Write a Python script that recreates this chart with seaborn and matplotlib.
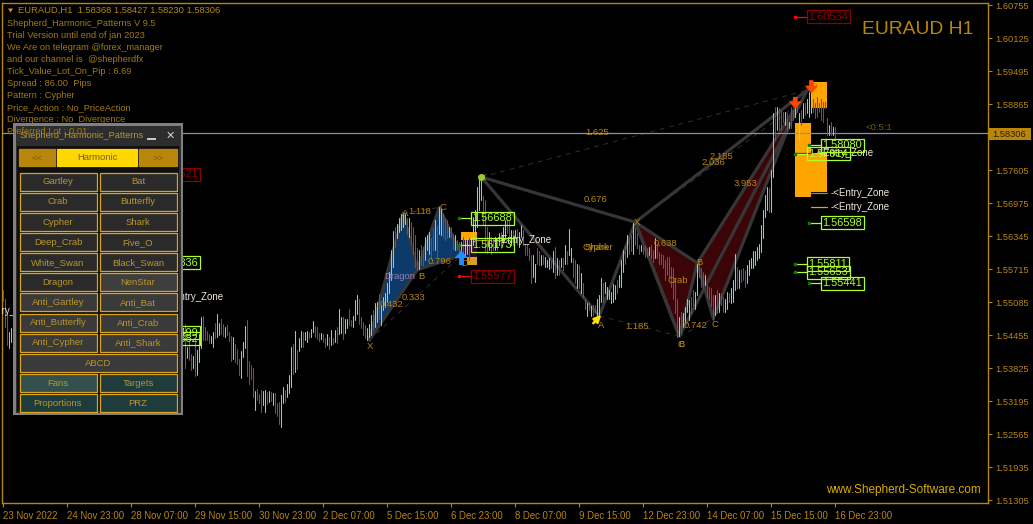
import numpy as np
import pandas as pd
import seaborn as sns
import matplotlib
matplotlib.use("Agg")
import matplotlib.pyplot as plt
from matplotlib.patches import Rectangle

# ---------- data: price = 1.5 + pips / 10000 ----------
left_bars = [0, 1, 2, 3, 4]
left_high = [531, 515, 487, 452, 458]
left_low = [511, 461, 426, 420, 433]
left_dir = "mmmcc"

first_bar = 91
bar_high = [
    466,423,436,410,406,436,416,448,479,481, 460,453,447,443,451,469,486,469,476,467,
    461,464,451,444,442,429,418,399,415,432, 462,474,396,388,383,338,342,333,340,339,
    340,337,338,337,335,334,315,317,331,347, 340,352,369,423,428,453,416,440,453,451,
    451,453,451,457,472,462,461,450,450,448, 440,447,442,456,439,455,460,496,480,479,
    476,477,495,474,481,512,521,515,480,471, 464,458,467,483,493,506,509,523,502,518,
    525,544,566,607,645,652,658,668,676,677, 677,668,669,661,652,636,611,607,617,614,
    633,636,642,630,649,665,655,689,687,677, 668,665,652,652,639,636,626,623,623,633,
    630,636,630,639,671,684,728,744,741,710, 703,652,643,633,630,633,630,640,643,652,
    665,665,665,646,646,646,647,643,655,646, 620,619,611,598,598,582,611,605,598,598,
    594,589,592,589,605,614,592,589,592,592, 617,605,647,611,592,589,582,579,563,544,
    515,506,509,500,503,503,515,522,554,544, 547,538,531,528,542,541,551,560,589,608,
    617,636,630,636,659,649,640,617,617,614, 615,611,614,617,608,630,620,604,601,598,
    589,594,595,576,573,554,515,480,490,487, 499,515,512,519,531,528,582,589,573,566,
    560,541,538,535,522,522,531,525,525,519, 515,528,525,535,550,600,576,570,571,573,
    570,579,589,592,605,605,614,620,655,684, 713,729,726,761,869,881,881,878,875,872,
    872,869,853,881,875,888,888,869,875,888, 888,897,910,913,897,888,900,888,897,891,
    891,859,846,853,843,843]
bar_low = [
    383,401,397,378,383,367,369,394,421,436, 436,436,431,431,423,440,442,445,448,443,
    442,445,434,396,399,394,391,369,364,404, 421,367,352,362,327,302,321,315,299,312,
    299,313,318,320,312,296,291,275,270,315, 318,327,334,347,372,375,381,415,423,422,
    436,432,439,442,451,441,437,434,437,432, 423,426,418,426,428,432,430,448,450,437,
    450,459,464,462,461,475,485,467,458,445, 439,436,442,445,455,461,471,477,464,493,
    499,509,525,550,576,614,630,642,646,652, 658,639,633,620,601,576,569,572,579,579,
    588,607,601,591,607,607,595,639,636,633, 626,630,633,630,610,607,607,604,588,582,
    595,601,588,617,617,636,652,684,703,655, 605,603,608,601,608,608,608,617,611,624,
    633,640,633,617,617,630,620,614,633,617, 598,598,589,544,557,547,582,579,579,582,
    576,576,571,573,566,554,560,560,576,570, 582,582,598,585,557,544,535,535,525,519,
    496,481,493,481,484,487,481,484,509,509, 525,515,515,506,509,515,525,538,538,566,
    582,595,601,605,601,617,611,601,605,601, 595,595,598,592,585,592,592,582,582,573,
    550,560,554,538,515,487,441,443,449,461, 468,490,474,487,500,496,522,557,538,535,
    541,519,515,500,475,484,487,490,503,490, 490,496,509,506,509,531,535,535,547,550,
    538,544,560,573,573,579,589,592,604,630, 671,684,681,681,748,818,837,837,837,853,
    846,837,840,840,856,862,872,818,846,859, 866,869,862,869,872,859,862,872,856,853,
    878,827,827,827,827,821]
bar_dir = (
    "mcmmcmcccm" "mmmccmccmm" "cmmmcmmmcc" "cmmmmcmmmc" "cmcmcmmmcc" "mcccmcmccm"
    "ccmccmmmcm" "mcmcmcmccm" "ccmmcccmmm" "mcccmccmcc" "cccccmcccc" "cmcmmmmcmm"
    "cccmmcmccm" "mmcmmcmmcm" "ccmccccccm" "mmcmmcmcmc" "cmmcmcmccm" "mmmmccmmcm"
    "cccmcmcmcm" "cmccmmcmcm" "mcmcmmcccm" "ccccccmccc" "mcmmcmmmcm" "mmcmmcmmmm"
    "mmmmmmmcmc" "cccmmccmmm" "cmmmmcmcmm" "ccmcccmcmm" "mccccccccc" "ccmccmcmmm"
    "cmcmmcmcmc" "mcccmmmmmm" "mmcmcm")

y_ticks = [1.60755, 1.60125, 1.59495, 1.58865, 1.58235, 1.57605, 1.56975, 1.56345,
           1.55715, 1.55085, 1.54455, 1.53825, 1.53195, 1.52565, 1.51935, 1.51305]
hidden_y_tick = 1.58235
x_tick_bars = list(range(0, 417, 32))
x_tick_labels = ["23 Nov 2022", "24 Nov 23:00", "28 Nov 07:00", "29 Nov 15:00", "30 Nov 23:00",
                 "2 Dec 07:00", "5 Dec 15:00", "6 Dec 23:00", "8 Dec 07:00", "9 Dec 15:00",
                 "12 Dec 23:00", "14 Dec 07:00", "15 Dec 15:00", "16 Dec 23:00"]
last_price = 1.58306

# harmonic pivots: X, A, B, C, D
dragon_bar = [183, 200, 207, 218, 229]
dragon_price = [1.5436, 1.5678, 1.5570, 1.5689, 1.5598]
cypher_bar = [239, 298, 316, 338, 402]
cypher_price = [1.5747, 1.5482, 1.5661, 1.5443, 1.5913]
crab_bar = [316, 338, 347, 355, 397]
crab_price = [1.5661, 1.5443, 1.5583, 1.5477, 1.5885]

# zones
zone_bar0 = [396, 404, 404, 229, 229, 232]
zone_bar1 = [404, 412, 412, 237, 237, 237]
zone_top = [1.5850, 1.5793, 1.5928, 1.5642, 1.5627, 1.5594]
zone_bot = [1.5709, 1.5718, 1.5879, 1.5627, 1.5594, 1.5579]
zone_col = ["#ffa500", "#ffa500", "#ffa500", "#ffa500", "#2a0a30", "#d9a020"]

# price tags
tag_value = ["1.58080", "1.57914", "1.56598", "1.55811", "1.55653", "1.55441",
             "1.56688", "1.56173", "1.55577", "1.60534", "1.57521", "1.55836", "1.54499", "1.54382"]
tag_bar = [403, 396, 403, 396, 396, 403, 228, 228, 228, 396, 71, 71, 71, 71]
tag_red = [0, 0, 0, 0, 0, 0, 0, 0, 1, 1, 1, 0, 0, 0]

# entry zones
entry_bar = [404, 404, 396, 237, 71, -14]
entry_price = [1.5717, 1.5690, 1.5793, 1.5627, 1.5518, 1.5492]
entry_len = [8, 8, 8, 6, 8, 0]
entry_col = ["#b8860b", "#daa520", "#3a3a3a", "#b8860b", "#b8860b", "#b8860b"]

# pattern texts
note_text = ["X", "A", "1.118", "C", "B", "D", "0.796", "0.432", "0.333",
             "X", "0.676", "1.625", "Shark", "Cypher", "A", "1.185", "X", "0.638", "Crab",
             "B", "C", "0.742", "B", "C", "2.185", "2.036", "3.953", "D"]
note_bar = [183.5, 201, 208, 220, 209, 230.5, 218, 194, 205,
            240, 296, 297, 297, 297, 299, 317, 317, 331, 337,
            339, 339, 346, 348, 356, 359, 355, 371, 405]
note_price = [1.5423, 1.5678, 1.5682, 1.5688, 1.5557, 1.5582, 1.5585, 1.5504, 1.5518,
              1.5747, 1.5705, 1.5833, 1.5613, 1.5613, 1.5463, 1.5461, 1.5661, 1.5621, 1.5550,
              1.5428, 1.5428, 1.5463, 1.5583, 1.5465, 1.5787, 1.5774, 1.5734, 1.5919]

header_lines = ["Shepherd_Harmonic_Patterns V 9.5", "Trial Version until end of jan 2023",
                "We Are on telegram @forex_manager", "and our channel is  @shepherdfx",
                "Tick_Value_Lot_On_Pip : 6.69", "Spread : 86.00  Pips", "Pattern : Cypher",
                "Price_Action : No_PriceAction", "Divergence : No_Divergence", "Preferred Lot : 0.01"]

button_rows = [("Gartley", "Bat"), ("Crab", "Butterfly"), ("Cypher", "Shark"), ("Deep_Crab", "Five_O"),
               ("White_Swan", "Black_Swan"), ("Dragon", "NenStar"), ("Anti_Gartley", "Anti_Bat"),
               ("Anti_Butterfly", "Anti_Crab"), ("Anti_Cypher", "Anti_Shark"), ("ABCD",),
               ("Fans", "Targets"), ("Proportions", "PRZ")]
button_fill = [("#2a2a2a", "#2a2a2a")] * 5 + [("#2a2a2a", "#3e3e3e")] + [("#3a3a3a", "#3a3a3a")] * 3 + \
              [("#3a3a3a",)] + [("#33504e", "#1e3c3c"), ("#1e3c3c", "#1e3c3c")]

# ---------- style ----------
GOLD = "#b8860b"
sns.set_theme(style="dark", rc={"axes.grid": False})
plt.rcParams["font.family"] = ["Liberation Sans", "DejaVu Sans"]
W, H = 1033, 524
fig = plt.figure(figsize=(W / 100, H / 100), dpi=100, facecolor="black")
ax = fig.add_axes([2 / W, 1 - 503 / H, 985.5 / W, 500.5 / H], facecolor="black")

# ---------- bars ----------
bars = np.r_[left_bars, first_bar + np.arange(len(bar_high))]
highs = np.r_[left_high, bar_high] / 1e4 + 1.5
lows = np.r_[left_low, bar_low] / 1e4 + 1.5
dirs = list(left_dir) + list(bar_dir)
df = pd.DataFrame({"bar": bars, "high": highs, "low": lows, "dir": dirs})
long = df.melt(id_vars=["bar", "dir"], value_vars=["high", "low"], value_name="price")
sns.lineplot(data=long, x="bar", y="price", hue="dir", units="bar", estimator=None, sort=False,
             palette={"c": "#35f0f8", "m": "#c0208a"}, linewidth=0.75, legend=False, ax=ax, zorder=4)

ax.set_xlim(-0.65, 492.1)
ax.set_ylim(1.51248, 1.60803)
ax.set_xlabel("")
ax.set_ylabel("")

# ---------- zones ----------
for b0, b1, t, bt, c in zip(zone_bar0, zone_bar1, zone_top, zone_bot, zone_col):
    ax.fill_between([b0, b1], bt, t, color=c, lw=0, zorder=1)

# ---------- patterns ----------
LINE = "#363636"


def pattern(bx, py, fill):
    if fill:
        ax.fill([bx[0], bx[1], bx[2]], [py[0], py[1], py[2]], color=fill, lw=0, zorder=1.5)
        ax.fill([bx[2], bx[3], bx[4]], [py[2], py[3], py[4]], color=fill, lw=0, zorder=1.5)
    for a, b in [(0, 1), (1, 2), (0, 2), (2, 3), (3, 4), (2, 4)]:
        ax.plot([bx[a], bx[b]], [py[a], py[b]], color=LINE, lw=2.3, zorder=2, solid_capstyle="round")
    for a, b in [(0, 4), (1, 3)]:
        ax.plot([bx[a], bx[b]], [py[a], py[b]], color="#303030", lw=0.7, ls=(0, (5, 5)), zorder=2)


pattern(cypher_bar, cypher_price, None)
pattern(crab_bar, crab_price, "#3b0508")
pattern(dragon_bar, dragon_price, "#0b3a6b")

# ---------- notes ----------
for t, b, p in zip(note_text, note_bar, note_price):
    ax.text(b, p, t, color=GOLD, fontsize=6.8, ha="center", va="center", zorder=6)
ax.text(198, 1.5557, "Dragon", color="#9a7fb0", fontsize=6.8, ha="center", va="center", zorder=6)

# ---------- arrows ----------
arrow_bar = [229, 396, 404]
arrow_from = [1.5579, 1.5900, 1.5932]
arrow_to = [1.5607, 1.5877, 1.5907]
arrow_col = ["#1e90ff", "#ff4500", "#ff4500"]
for b, p0, p1, c in zip(arrow_bar, arrow_from, arrow_to, arrow_col):
    ax.annotate("", xy=(b, p1), xytext=(b, p0), zorder=7,
                arrowprops=dict(facecolor=c, edgecolor="none", width=3.2, headwidth=9.5, headlength=5.5, shrink=0))
ax.annotate("", xy=(299, 1.5484), xytext=(295, 1.5468), zorder=7,
            arrowprops=dict(arrowstyle="-|>", color="#ffe000", lw=1.8, mutation_scale=10, shrinkA=0, shrinkB=0))
ax.plot([239], [1.5748], marker="o", ms=4, color="#9acd32", zorder=7)

# ---------- entry zones ----------
for b, p, n, c in zip(entry_bar, entry_price, entry_len, entry_col):
    if n:
        ax.plot([b, b + n], [p, p], color=c, lw=0.9, zorder=5)
    ax.text(b + n + 1.5, p, "-<Entry_Zone", color="#f0e8d8", fontsize=7, va="center", ha="left",
            zorder=6, clip_on=True)

# ---------- price tags ----------
for v, b, red in zip(tag_value, tag_bar, tag_red):
    p = float(v)
    edge = "#8b0000" if red else "#adff2f"
    ax.plot([b, b + 6], [p, p], color="#e01010" if red else "#adff2f", lw=0.9, zorder=6)
    ax.plot([b], [p], marker="s", ms=1.6, color="#ff0000" if red else "#0a7a0a", zorder=6)
    ax.text(b + 6.6, p, v, color=edge, fontsize=7.9, ha="left", va="center", zorder=6,
            bbox=dict(boxstyle="square,pad=0.14", fc="none", ec=edge, lw=0.9))

# ---------- last price ----------
ax.axhline(last_price, color="#8494a8", lw=0.9, zorder=3)

# ---------- axes ----------
for s in ax.spines.values():
    s.set_color(GOLD)
    s.set_linewidth(1.0)
    s.set_visible(True)
ax.yaxis.tick_right()
ax.set_yticks(y_ticks)
ax.set_yticklabels(["" if t == hidden_y_tick else f"{t:.5f}" for t in y_ticks])
ax.set_xticks(x_tick_bars)
ax.set_xticklabels(x_tick_labels, ha="left")
ax.tick_params(axis="y", colors=GOLD, labelsize=6.7, length=3, width=0.8, pad=2.5, right=True, left=False)
ax.tick_params(axis="x", colors=GOLD, labelsize=6.9, length=3, width=0.8, pad=3, bottom=True)
for t in ax.get_xticklabels() + ax.get_yticklabels():
    t.set_color(GOLD)

# ---------- overlay (terminal panel and captions), in screen pixels ----------
ov = fig.add_axes([0, 0, 1, 1], facecolor="none")
ov.set_xlim(0, W)
ov.set_ylim(H, 0)
ov.axis("off")


def rect(x0, y0, x1, y1, fc, ec="none", lw=0, z=1):
    ov.add_patch(Rectangle((x0, y0), x1 - x0, y1 - y0, fc=fc, ec=ec, lw=lw, zorder=z))


TXT = "#b8962a"


def button(x0, y0, x1, y1, label, fc="#2a2a2a", ec="#daa520", tc=TXT):
    rect(x0, y0, x1, y1, fc, ec, 0.9, 3)
    ov.text((x0 + x1) / 2, (y0 + y1) / 2 + 0.3, label, color=tc, fontsize=6.8, ha="center", va="center", zorder=4)


rect(13, 123, 183, 415, "#808080")
rect(15.5, 125.5, 180.5, 412.5, "#2d2d2d", z=1.1)
rect(17, 146, 179, 411, "#101010", z=1.2)
ov.text(20, 136, "Shepherd_Harmonic_Patterns", color=TXT, fontsize=6.6, va="center", zorder=5)
rect(147, 137.5, 156, 139.5, "#c8c8c8", z=5)
ov.text(170, 135.5, "\u2715", color="#d0d0d0", fontsize=8, ha="center", va="center", zorder=5,
        family=["DejaVu Sans"])
button(19, 149, 55, 166, "<<", fc=GOLD, ec=GOLD, tc="#806010")
button(57, 149, 137, 166, "Harmonic", fc="#ffd700", ec="#ffd700", tc="#7a6000")
button(139, 149, 177, 166, ">>", fc=GOLD, ec=GOLD, tc="#806010")
row_top = 172.5
for labels, fills in zip(button_rows, button_fill):
    if len(labels) == 2:
        button(19.5, row_top, 96.5, row_top + 18, labels[0], fills[0])
        button(99.5, row_top, 176.5, row_top + 18, labels[1], fills[1])
    else:
        button(19.5, row_top, 176.5, row_top + 18, labels[0], fills[0])
    row_top += 20.15

# last price flag
rect(988, 128, 1031, 140, GOLD, z=2)
ov.text(1009.5, 134.3, f"{last_price:.5f}", color="#2a1c00", fontsize=6.7, ha="center", va="center", zorder=3)

# header
ov.fill([8, 13, 10.5], [8.5, 8.5, 12.5], color="#e8900c", lw=0, zorder=6)
ov.text(18, 10.3, "EURAUD,H1  1.58368 1.58427 1.58230 1.58306", color=GOLD, fontsize=6.75, va="center", zorder=6)
for i, line in enumerate(header_lines):
    ov.text(7, 23.7 + i * 11.95, line, color="#a07a10", fontsize=6.65, va="center", zorder=6)

ov.text(862, 29, "EURAUD H1", color=GOLD, fontsize=13.9, va="center", zorder=6)
ov.text(865, 127, "<0:5:1", color="#6b5a10", fontsize=6.8, va="center", zorder=6)
ov.text(981, 490, "www.Shepherd-Software.com", color="#d8ac00", fontsize=8.5, ha="right", va="center", zorder=6)

fig.savefig("out.png", dpi=100, facecolor="black")
